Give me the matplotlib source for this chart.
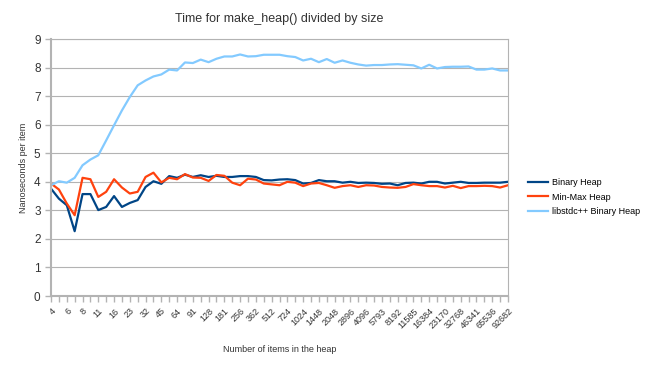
import numpy as np
import matplotlib.pyplot as plt

plt.rcParams['font.family'] = ['Liberation Sans', 'DejaVu Sans']

# heap sizes (4 * 2^(k/4)), one point each
sizes = [4, 5, 6, 7, 8, 9, 11, 13, 16, 19, 23, 27, 32, 38, 45, 54, 64, 76, 91, 108,
         128, 152, 181, 215, 256, 304, 362, 431, 512, 609, 724, 861, 1024, 1218, 1448,
         1722, 2048, 2436, 2896, 3444, 4096, 4871, 5793, 6889, 8192, 9742, 11585, 13777,
         16384, 19484, 23170, 27554, 32768, 38968, 46341, 55109, 65536, 77936, 92682]

binary_heap = [3.76, 3.41, 3.18, 2.27, 3.57, 3.57, 3.01, 3.12, 3.50, 3.12,
               3.26, 3.36, 3.82, 4.02, 3.93, 4.20, 4.14, 4.25, 4.17, 4.23,
               4.17, 4.21, 4.17, 4.17, 4.20, 4.20, 4.17, 4.06, 4.05, 4.08,
               4.09, 4.06, 3.94, 3.96, 4.06, 4.02, 4.02, 3.97, 4.00, 3.96,
               3.97, 3.96, 3.93, 3.94, 3.88, 3.96, 3.97, 3.94, 4.00, 4.00,
               3.94, 3.97, 4.00, 3.96, 3.96, 3.97, 3.97, 3.97, 4.00]

minmax_heap = [3.94, 3.73, 3.24, 2.83, 4.14, 4.09, 3.47, 3.65, 4.09, 3.80,
               3.59, 3.65, 4.17, 4.32, 3.98, 4.14, 4.09, 4.27, 4.15, 4.14,
               4.03, 4.24, 4.21, 3.97, 3.88, 4.11, 4.08, 3.94, 3.91, 3.88,
               4.00, 3.97, 3.85, 3.94, 3.96, 3.88, 3.79, 3.85, 3.88, 3.82,
               3.88, 3.87, 3.82, 3.80, 3.79, 3.82, 3.92, 3.88, 3.85, 3.85,
               3.80, 3.86, 3.78, 3.85, 3.85, 3.86, 3.85, 3.80, 3.88]

libstdcxx_heap = [3.88, 4.02, 3.97, 4.14, 4.58, 4.78, 4.93, 5.45, 5.98, 6.50,
                  6.97, 7.38, 7.55, 7.69, 7.76, 7.93, 7.90, 8.18, 8.16, 8.28,
                  8.19, 8.31, 8.39, 8.39, 8.46, 8.39, 8.40, 8.45, 8.45, 8.45,
                  8.40, 8.37, 8.25, 8.31, 8.19, 8.30, 8.17, 8.25, 8.17, 8.11,
                  8.07, 8.09, 8.09, 8.11, 8.12, 8.10, 8.08, 7.97, 8.10, 7.97,
                  8.02, 8.03, 8.03, 8.04, 7.93, 7.93, 7.97, 7.90, 7.90]

x = np.arange(len(sizes))

fig = plt.figure(figsize=(6.5, 3.65), dpi=100)
ax = fig.add_axes([0.0785, 0.189, 0.703, 0.704])

ax.plot(x, binary_heap, color='#004586', lw=1.6, label='Binary Heap')
ax.plot(x, minmax_heap, color='#ff420e', lw=1.6, label='Min-Max Heap')
ax.plot(x, libstdcxx_heap, color='#83caff', lw=1.6, label='libstdc++ Binary Heap')

ax.set_xlim(0, len(sizes) - 1)
ax.set_ylim(0, 9)
ax.set_yticks(range(10))
ax.set_xticks(x, minor=True)
ax.set_xticks(x[::2])
ax.set_xticklabels([str(s) for s in sizes[::2]], rotation=45, ha='right',
                   rotation_mode='anchor', fontsize=6.5, color='#333333')
ax.tick_params(axis='y', labelsize=8.5, colors='#b3b3b3', labelcolor='#333333',
               length=4, width=1)
ax.tick_params(axis='x', which='both', colors='#b3b3b3', length=4, width=1)
ax.tick_params(axis='x', which='major', labelcolor='#333333')

ax.grid(axis='y', color='#b3b3b3', lw=0.8)
ax.set_axisbelow(True)
for side in ['top', 'right']:
    ax.spines[side].set_color('#b3b3b3')
    ax.spines[side].set_linewidth(0.8)
for side in ['left', 'bottom']:
    ax.spines[side].set_color('#b3b3b3')
    ax.spines[side].set_linewidth(1.5)

ax.set_title('Time for make_heap() divided by size', fontsize=9, color='#333333', pad=12)
ax.set_xlabel('Number of items in the heap', fontsize=6.5, color='#333333', labelpad=10)
ax.set_ylabel('Nanoseconds per item', fontsize=6.5, color='#333333', labelpad=4)

fig.legend(loc='center left', bbox_to_anchor=(0.8, 0.46), frameon=False,
           fontsize=6.5, handlelength=2.2, handletextpad=0.5, labelspacing=0.6)

fig.savefig('out.png', dpi=100)
